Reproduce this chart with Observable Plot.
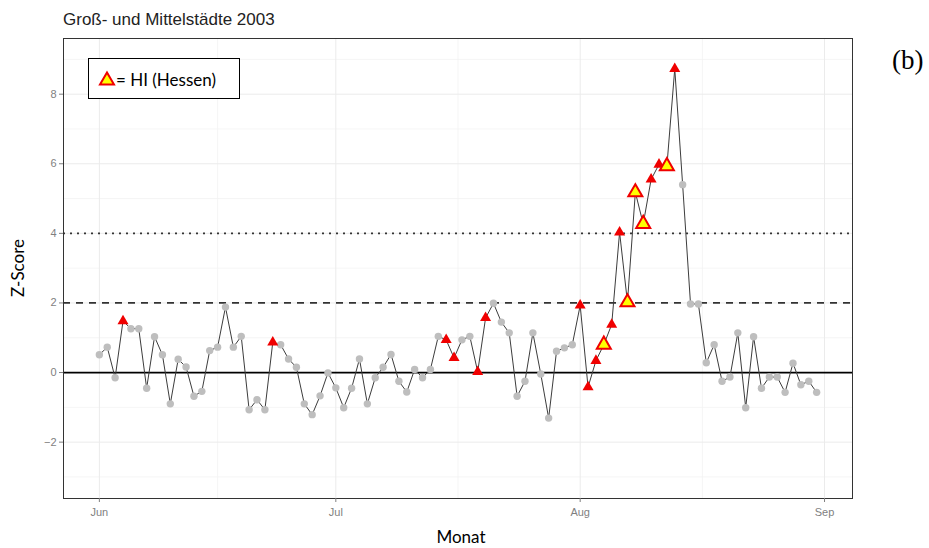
<!DOCTYPE html>
<html><head><meta charset="utf-8">
<script src="https://cdn.jsdelivr.net/npm/d3@7"></script>
<script src="https://cdn.jsdelivr.net/npm/@observablehq/plot@0.6"></script>
<style>body{margin:0;background:#fff}</style>
</head><body><div id="chart"></div>
<script>
// Daily Z-scores, 1 June – 31 August 2003
const junValues = [0.51, 0.73, -0.15, 1.48, 1.26, 1.26, -0.45, 1.03, 0.51, -0.90, 0.38, 0.16, -0.68, -0.54, 0.63,
                   0.73, 1.88, 0.73, 1.04, -1.07, -0.78, -1.07, 0.87, 0.80, 0.39, 0.15, -0.90, -1.21, -0.67, -0.01];
const julValues = [-0.44, -1.01, -0.45, 0.39, -0.90, -0.15, 0.15, 0.52, -0.25, -0.56, 0.09, -0.15, 0.09, 1.04, 0.94, 0.42,
                   0.94, 1.04, 0.02, 1.57, 1.99, 1.45, 1.14, -0.68, -0.25, 1.14, -0.04, -1.31, 0.61, 0.71, 0.80];
const augValues = [1.93, -0.42, 0.34, 0.80, 1.38, 4.03, 2.02, 5.18, 4.27, 5.55, 5.98, 5.93, 8.73, 5.40, 1.97, 1.97,
                   0.28, 0.80, -0.25, -0.13, 1.14, -1.01, 1.03, -0.45, -0.13, -0.13, -0.57, 0.27, -0.35, -0.25, -0.57];
const redDays = ["2003-06-04", "2003-06-23", "2003-07-15", "2003-07-16", "2003-07-19", "2003-07-20",
                 "2003-08-01", "2003-08-02", "2003-08-03", "2003-08-05", "2003-08-06", "2003-08-10", "2003-08-11", "2003-08-13"];
const hiDays = ["2003-08-04", "2003-08-07", "2003-08-08", "2003-08-09", "2003-08-12"];
const monthTicks = ["2003-06-01", "2003-07-01", "2003-08-01", "2003-09-01"];
const monthLabels = ["Jun", "Jul", "Aug", "Sep"];
const monthMinor = ["2003-06-16", "2003-07-16T12:00", "2003-08-16T12:00"];
const yTicks = [-2, 0, 2, 4, 6, 8];
const yMinor = [-3, -1, 1, 3, 5, 7, 9];
const titleText = "Groß- und Mittelstädte 2003";
const legendText = "= HI (Hessen)";
const xLabel = "Monat";
const yLabel = "Z-Score";
const panelLabel = "(b)";

const values = [...junValues, ...julValues, ...augValues];
const start = Date.UTC(2003, 5, 1);
const day = 864e5;
const iso = d => d.toISOString().slice(0, 10);
const data = values.map((v, i) => {
  const date = new Date(start + i * day);
  const k = iso(date);
  return {date, z: v, type: hiDays.includes(k) ? "hi" : redDays.includes(k) ? "red" : "gray"};
});
const toDate = s => new Date(s + (s.includes("T") ? "Z" : "T00:00Z"));
const ticks = monthTicks.map(toDate);
const minorX = monthMinor.map(toDate);
const first = data[0].date, last = data[data.length - 1].date;
const pad = (last - first) * 0.05;
const xDomain = [new Date(+first - pad), new Date(+last + pad)];

const plot = Plot.plot({
  width: 929, height: 548,
  marginLeft: 63, marginRight: 77, marginTop: 38, marginBottom: 50,
  style: {fontFamily: "'Liberation Sans Narrow', 'Liberation Sans', Arial, sans-serif", background: "#fff", overflow: "visible"},
  x: {type: "utc", domain: xDomain},
  y: {domain: [-3.62, 9.6]},
  marks: [
    Plot.ruleY(yMinor, {stroke: "#F3F3F3", strokeWidth: 0.8}),
    Plot.ruleX(minorX, {stroke: "#F3F3F3", strokeWidth: 0.8}),
    Plot.ruleY(yTicks, {stroke: "#EBEBEB", strokeWidth: 1}),
    Plot.ruleX(ticks, {stroke: "#EBEBEB", strokeWidth: 1}),
    Plot.ruleY([0], {stroke: "#000", strokeWidth: 1.8}),
    Plot.ruleY([2], {stroke: "#333", strokeWidth: 1.8, strokeDasharray: "7,6"}),
    Plot.ruleY([4], {stroke: "#333", strokeWidth: 1.8, strokeDasharray: "2,5"}),
    Plot.line(data, {x: "date", y: "z", stroke: "#3c3c3c", strokeWidth: 1}),
    Plot.dot(data.filter(d => d.type === "gray"), {x: "date", y: "z", r: 3.7, fill: "#BEBEBE"}),
    Plot.dot(data.filter(d => d.type === "red"), {x: "date", y: "z", symbol: "triangle", r: 4.1, fill: "#F00000"}),
    Plot.dot(data.filter(d => d.type === "hi"), {x: "date", y: "z", symbol: "triangle", r: 5.2, fill: "#FFFF00", stroke: "#F00000", strokeWidth: 2}),
    Plot.frame({stroke: "#333", strokeWidth: 1}),
    Plot.axisY({ticks: yTicks, tickSize: 4, tickPadding: 3, label: null, fontSize: 11, fill: "#7f7f7f", stroke: "#7f7f7f"}),
    Plot.axisX({ticks: ticks, tickSize: 4, tickPadding: 6, label: null, fontSize: 11, fill: "#7f7f7f", stroke: "#7f7f7f",
                tickFormat: d => monthLabels[ticks.findIndex(t => +t === +d)]})
  ]
});
document.getElementById("chart").appendChild(plot);

const svg = d3.select(plot);
svg.selectAll("g[aria-label$='tick label'] text").attr("fill", "#7f7f7f");
svg.append("text").attr("x", 63).attr("y", 25).attr("text-anchor", "start")
  .attr("font-family", "'Liberation Sans', Arial, sans-serif").attr("font-size", 17).attr("fill", "#222")
  .text(titleText);
// legend
svg.append("rect").attr("x", 88.5).attr("y", 58.5).attr("width", 151).attr("height", 40)
  .attr("fill", "#fff").attr("stroke", "#000").attr("stroke-width", 1);
svg.append("path").attr("transform", "translate(107,80.5)")
  .attr("d", d3.symbol(d3.symbolTriangle, Math.PI * 5.2 * 5.2)())
  .attr("fill", "#FFFF00").attr("stroke", "#F00000").attr("stroke-width", 2);
svg.append("text").attr("x", 116).attr("y", 86).attr("text-anchor", "start")
  .attr("font-family", "Lato, 'Open Sans', sans-serif").attr("font-size", 17).attr("fill", "#000")
  .text(legendText);
// axis titles
svg.append("text").attr("transform", "translate(24,268) rotate(-90)").attr("text-anchor", "middle")
  .attr("font-family", "Lato, 'Open Sans', sans-serif").attr("font-size", 17).attr("fill", "#000")
  .text(yLabel);
svg.append("text").attr("x", 461).attr("y", 543).attr("text-anchor", "middle")
  .attr("font-family", "Lato, 'Open Sans', sans-serif").attr("font-size", 17).attr("fill", "#000")
  .text(xLabel);
svg.append("text").attr("x", 892).attr("y", 69).attr("text-anchor", "start")
  .attr("font-family", "'Liberation Serif', 'DejaVu Serif', serif").attr("font-size", 27).attr("fill", "#000")
  .text(panelLabel);
</script>
</body></html>
